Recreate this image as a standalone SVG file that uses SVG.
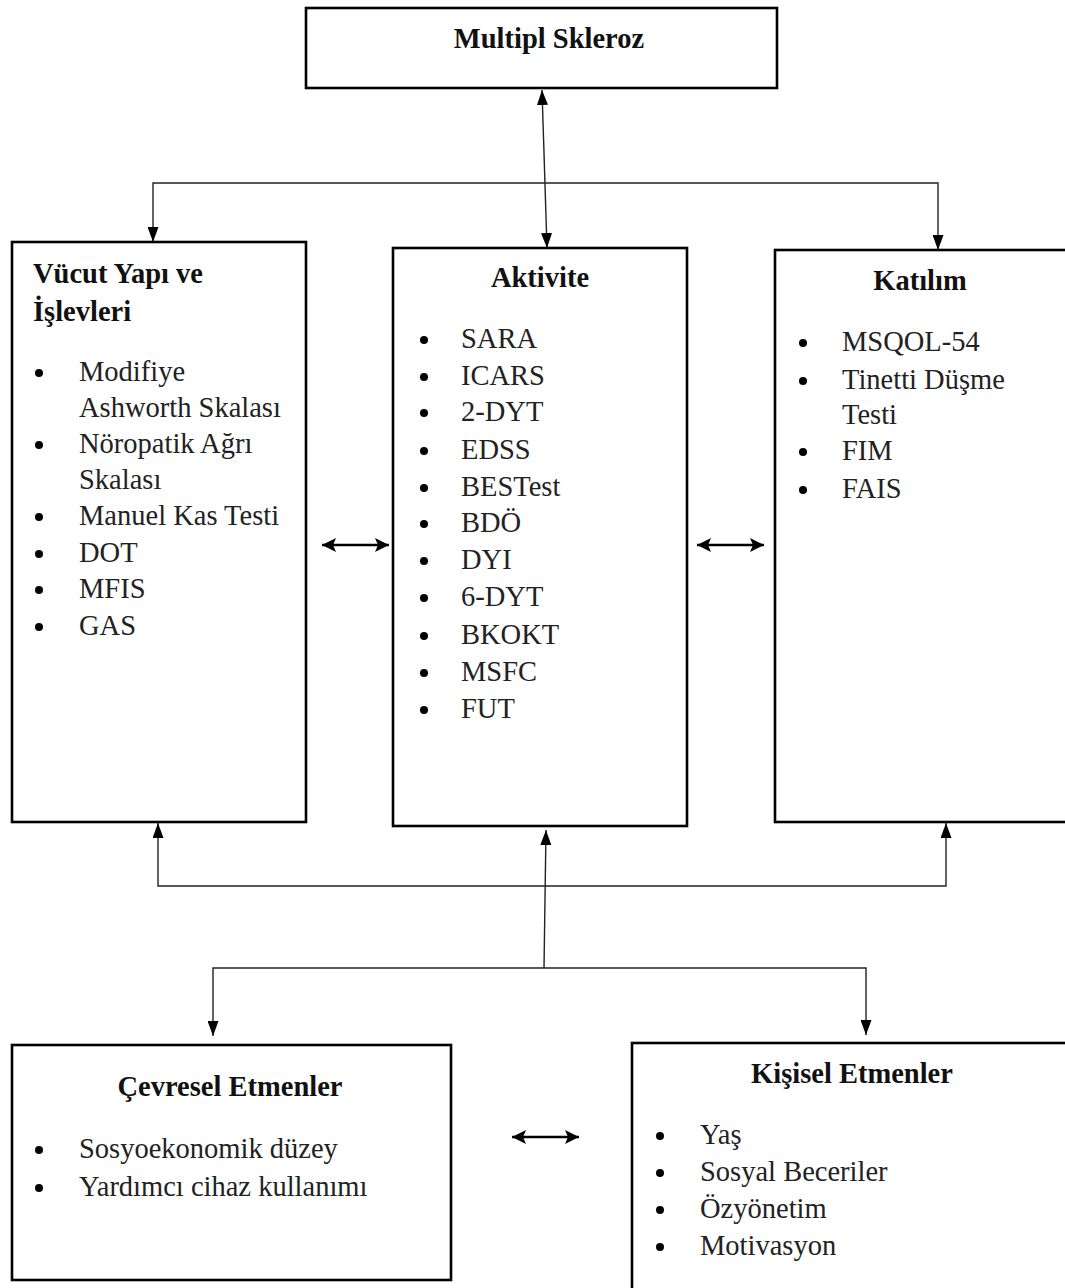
<svg xmlns="http://www.w3.org/2000/svg" width="1065" height="1288" viewBox="0 0 1065 1288">
<style>
.box{fill:#fff;stroke:#000;stroke-width:2.6}
.h{font-family:"Liberation Serif","Times New Roman",serif;font-weight:bold;font-size:28.5px;fill:#111}
.t{font-family:"Liberation Serif","Times New Roman",serif;font-size:28.5px;fill:#222}
.c{stroke:#222;stroke-width:1.4;fill:none}
.d{stroke:#000;stroke-width:2.4;fill:none}
.b{fill:#000}
</style>
<defs>
<marker id="ah" markerUnits="userSpaceOnUse" markerWidth="15" markerHeight="11" refX="15" refY="5.5" viewBox="0 0 15 11" orient="auto-start-reverse">
<path d="M0,0 L15,5.5 L0,11 z" fill="#000"/>
</marker>
<marker id="ah2" markerUnits="userSpaceOnUse" markerWidth="14" markerHeight="14" refX="14" refY="7" viewBox="0 0 14 14" orient="auto-start-reverse">
<path d="M0,0 L14,7 L0,14 L3,7 z" fill="#000"/>
</marker>
</defs>
<rect width="1065" height="1288" fill="#fff"/>

<g id="connectors">
<line class="c" x1="542" y1="90" x2="547" y2="248" marker-start="url(#ah)" marker-end="url(#ah)"/>
<polyline class="c" points="153,242 153,183 938,183 938,250" marker-start="url(#ah)" marker-end="url(#ah)"/>
<polyline class="c" points="158,823 158,886 946,886 946,823" marker-start="url(#ah)" marker-end="url(#ah)"/>
<line class="c" x1="544" y1="968" x2="546" y2="830" marker-end="url(#ah)"/>
<polyline class="c" points="213,1036 213,968 866,968 866,1035" marker-start="url(#ah)" marker-end="url(#ah)"/>
<line class="d" x1="322" y1="545" x2="389" y2="545" marker-start="url(#ah2)" marker-end="url(#ah2)"/>
<line class="d" x1="697" y1="545" x2="764" y2="545" marker-start="url(#ah2)" marker-end="url(#ah2)"/>
<line class="d" x1="512" y1="1137" x2="579" y2="1137" marker-start="url(#ah2)" marker-end="url(#ah2)"/>
</g>

<g id="multipl-skleroz">
<rect class="box" x="306" y="8" width="471" height="80"/>
<text class="h" x="549" y="48" text-anchor="middle">Multipl Skleroz</text>
</g>

<g id="vucut">
<rect class="box" x="12" y="242" width="294" height="580"/>
<text class="h" x="33" y="283">Vücut Yapı ve</text>
<text class="h" x="33" y="321">İşlevleri</text>
<g class="b"><circle cx="39" cy="373" r="4"/><circle cx="39" cy="445" r="4"/><circle cx="39" cy="517" r="4"/><circle cx="39" cy="554" r="4"/><circle cx="39" cy="590" r="4"/><circle cx="39" cy="627" r="4"/></g>
<text class="t" x="79" y="381">Modifiye</text>
<text class="t" x="79" y="417">Ashworth Skalası</text>
<text class="t" x="79" y="453">Nöropatik Ağrı</text>
<text class="t" x="79" y="489">Skalası</text>
<text class="t" x="79" y="525">Manuel Kas Testi</text>
<text class="t" x="79" y="562">DOT</text>
<text class="t" x="79" y="598">MFIS</text>
<text class="t" x="79" y="635">GAS</text>
</g>

<g id="aktivite">
<rect class="box" x="393" y="248" width="294" height="578"/>
<text class="h" x="540" y="287" text-anchor="middle">Aktivite</text>
<g class="b"><circle cx="424" cy="340" r="4"/><circle cx="424" cy="377" r="4"/><circle cx="424" cy="413" r="4"/><circle cx="424" cy="451" r="4"/><circle cx="424" cy="488" r="4"/><circle cx="424" cy="524" r="4"/><circle cx="424" cy="561" r="4"/><circle cx="424" cy="598" r="4"/><circle cx="424" cy="636" r="4"/><circle cx="424" cy="673" r="4"/><circle cx="424" cy="710" r="4"/></g>
<text class="t" x="461" y="348">SARA</text>
<text class="t" x="461" y="385">ICARS</text>
<text class="t" x="461" y="421">2-DYT</text>
<text class="t" x="461" y="459">EDSS</text>
<text class="t" x="461" y="496">BESTest</text>
<text class="t" x="461" y="532">BDÖ</text>
<text class="t" x="461" y="569">DYI</text>
<text class="t" x="461" y="606">6-DYT</text>
<text class="t" x="461" y="644">BKOKT</text>
<text class="t" x="461" y="681">MSFC</text>
<text class="t" x="461" y="718">FUT</text>
</g>

<g id="katilim">
<rect class="box" x="775" y="250" width="300" height="572"/>
<text class="h" x="920" y="290" text-anchor="middle">Katılım</text>
<g class="b"><circle cx="803" cy="343" r="4"/><circle cx="803" cy="381" r="4"/><circle cx="803" cy="452" r="4"/><circle cx="803" cy="490" r="4"/></g>
<text class="t" x="842" y="351">MSQOL-54</text>
<text class="t" x="842" y="389">Tinetti Düşme</text>
<text class="t" x="842" y="424">Testi</text>
<text class="t" x="842" y="460">FIM</text>
<text class="t" x="842" y="498">FAIS</text>
</g>

<g id="cevresel">
<rect class="box" x="12" y="1045" width="439" height="235"/>
<text class="h" x="230" y="1096" text-anchor="middle">Çevresel Etmenler</text>
<g class="b"><circle cx="39" cy="1150" r="4"/><circle cx="39" cy="1188" r="4"/></g>
<text class="t" x="79" y="1158">Sosyoekonomik düzey</text>
<text class="t" x="79" y="1196">Yardımcı cihaz kullanımı</text>
</g>

<g id="kisisel">
<rect class="box" x="632" y="1043" width="445" height="260"/>
<text class="h" x="852" y="1083" text-anchor="middle">Kişisel Etmenler</text>
<g class="b"><circle cx="660" cy="1136" r="4"/><circle cx="660" cy="1173" r="4"/><circle cx="660" cy="1210" r="4"/><circle cx="660" cy="1247" r="4"/></g>
<text class="t" x="700" y="1144">Yaş</text>
<text class="t" x="700" y="1181">Sosyal Beceriler</text>
<text class="t" x="700" y="1218">Özyönetim</text>
<text class="t" x="700" y="1255">Motivasyon</text>
</g>
</svg>
